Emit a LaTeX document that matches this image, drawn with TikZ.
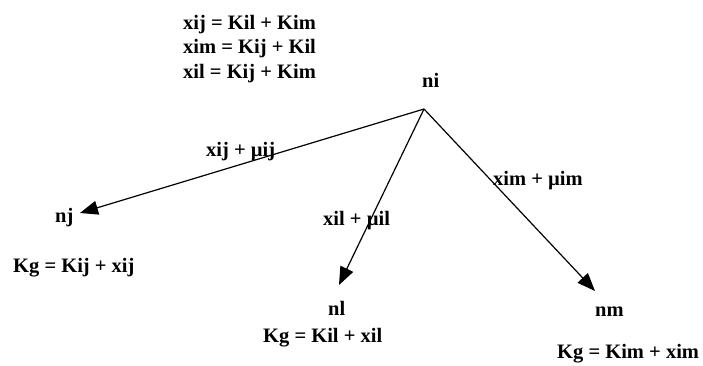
\documentclass[tikz,border=0pt]{standalone}
\usepackage{fontspec}
\setmainfont{Liberation Serif}
\usetikzlibrary{arrows.meta}
\begin{document}
\begin{tikzpicture}[x=1pt,y=-1pt,
  lbl/.style={font=\fontsize{20.5}{24.5}\bfseries\selectfont, inner sep=0pt, anchor=base west},
  edge/.style={line width=1.2pt, -{Triangle[length=18pt,width=14pt]}}]
\useasboundingbox (0,0) rectangle (703,365);
\node[lbl] (eq1) at (183,29) {xij = Kil + Kim};
\node[lbl] (eq2) at (183,53.5) {xim = Kij + Kil};
\node[lbl] (eq3) at (183,78) {xil = Kij + Kim};
\node[lbl] (ni) at (422,87) {ni};
\coordinate (apex) at (424,109);
\node[lbl] (nj) at (55,222) {nj};
\node[lbl] (nl) at (328,315) {nl};
\node[lbl] (nm) at (595,316) {nm};
\coordinate (ej) at (80,213);
\coordinate (el) at (339,285);
\coordinate (em) at (595,291);
\draw[edge] (apex) -- (ej);
\draw[edge] (apex) -- (el);
\draw[edge] (apex) -- (em);
\node[lbl] (lj) at (206,156) {xij + µij};
\node[lbl] (ll) at (323,225) {xil + µil};
\node[lbl] (lm) at (493,185) {xim + µim};
\node[lbl] (kj) at (13,272) {Kg = Kij + xij};
\node[lbl] (kl) at (263,342) {Kg = Kil + xil};
\node[lbl] (km) at (557,358) {Kg = Kim + xim};
\end{tikzpicture}
\end{document}
